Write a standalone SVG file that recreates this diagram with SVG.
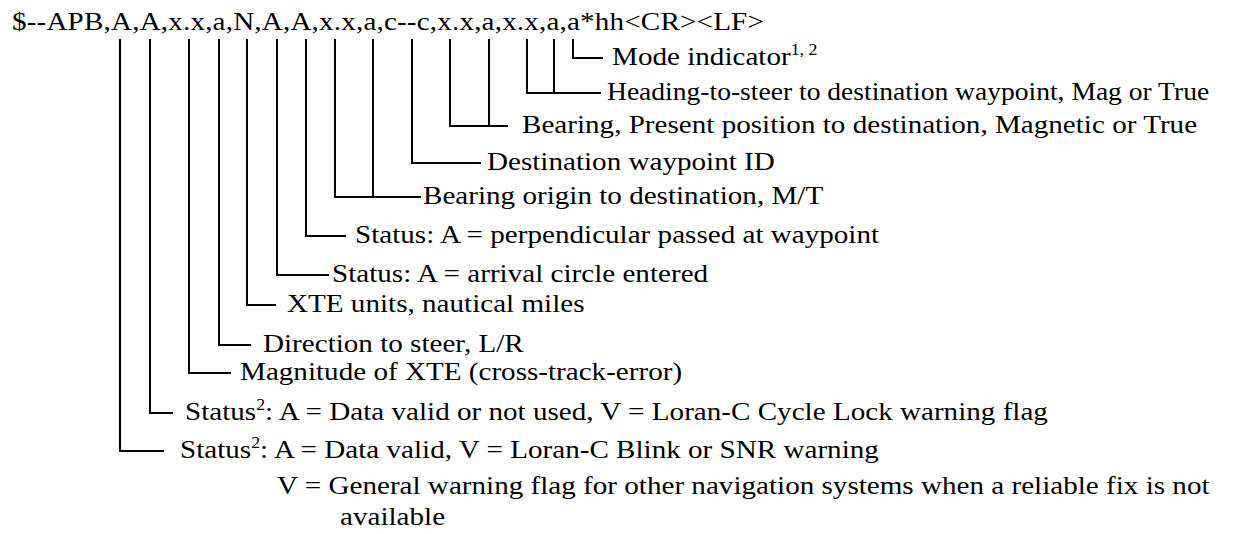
<svg xmlns="http://www.w3.org/2000/svg" width="1253" height="534" viewBox="0 0 1253 534" font-family="Liberation Serif, Times New Roman, serif">
<style>
text{font-family:'Liberation Serif','Times New Roman',serif;font-size:26px;fill:#000}
.sent{letter-spacing:0.15px}
.sup{font-size:16px}
.c{fill:none;stroke:#000;stroke-width:2;stroke-linecap:square}
</style>
<rect width="1253" height="534" fill="#fff"/>
<g id="sentence" transform="scale(1.12 1)"><text class="sent" x="10.71" y="30">$--APB,A,A,x.x,a,N,A,A,x.x,a,c--c,x.x,a,x.x,a,a*hh&lt;CR&gt;&lt;LF&gt;</text></g>
<g id="connectors">
<path class="c" d="M573 40V58H602"/>
<path class="c" d="M527 40V93H600M554 40V93"/>
<path class="c" d="M450 40V126H507M489 40V126"/>
<path class="c" d="M412 40V163H480"/>
<path class="c" d="M335 40V197H420M373 40V197"/>
<path class="c" d="M306 40V236H345"/>
<path class="c" d="M277 40V275H328"/>
<path class="c" d="M247 40V305H275"/>
<path class="c" d="M219 40V345H250"/>
<path class="c" d="M189 40V373H230"/>
<path class="c" d="M150 40V413H172"/>
<path class="c" d="M120 40V451H163"/>
</g>
<g id="mode" transform="scale(1.12 1)"><text x="546.43" y="65">Mode indicator<tspan class="sup" dy="-10">1, 2</tspan></text></g>
<g id="heading" transform="scale(1.06 1)"><text x="572.64" y="100">Heading-to-steer to destination waypoint, Mag or True</text></g>
<g id="bearing-pp" transform="scale(1.12 1)"><text x="466.07" y="133">Bearing, Present position to destination, Magnetic or True</text></g>
<g id="dest-id" transform="scale(1.12 1)"><text x="434.82" y="170">Destination waypoint ID</text></g>
<g id="bearing-origin" transform="scale(1.12 1)"><text x="377.68" y="204">Bearing origin to destination, M/T</text></g>
<g id="status-perp" transform="scale(1.12 1)"><text x="316.96" y="243">Status: A = perpendicular passed at waypoint</text></g>
<g id="status-arrival" transform="scale(1.12 1)"><text x="296.43" y="282">Status: A = arrival circle entered</text></g>
<g id="xte-units" transform="scale(1.12 1)"><text x="256.25" y="312">XTE units, nautical miles</text></g>
<g id="direction" transform="scale(1.12 1)"><text x="234.82" y="352">Direction to steer, L/R</text></g>
<g id="magnitude" transform="scale(1.12 1)"><text x="214.29" y="380">Magnitude of XTE (cross-track-error)</text></g>
<g id="status-cycle" transform="scale(1.12 1)"><text x="165.18" y="420">Status<tspan class="sup" dy="-10">2</tspan><tspan dy="10">: A = Data valid or not used, V = Loran-C Cycle Lock warning flag</tspan></text></g>
<g id="status-blink" transform="scale(1.12 1)"><text x="160.71" y="458">Status<tspan class="sup" dy="-10">2</tspan><tspan dy="10">: A = Data valid, V = Loran-C Blink or SNR warning</tspan></text>
<text x="247.32" y="494">V = General warning flag for other navigation systems when a reliable fix is not</text>
<text x="303.57" y="525">available</text></g>
</svg>
